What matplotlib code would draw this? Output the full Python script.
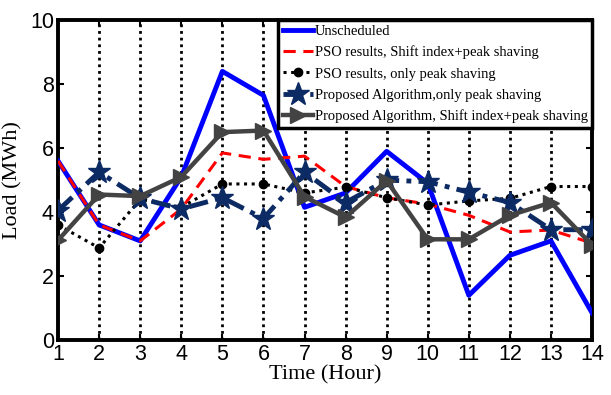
import numpy as np
import matplotlib
matplotlib.use("Agg")
from matplotlib import pyplot as plt

# hours 1..14
hours = np.arange(1, 15)

# load values (MWh)
unscheduled = [5.6, 3.6, 3.1, 5.1, 8.4, 7.65, 4.15, 4.6, 5.9, 4.9, 1.4, 2.65, 3.1, 0.85]
pso_shift_peak = [5.6, 3.6, 3.1, 4.1, 5.85, 5.65, 5.75, 4.8, 4.45, 4.25, 3.9, 3.38, 3.44, 3.03]
pso_peak = [3.6, 2.88, 4.4, 4.15, 4.88, 4.88, 4.6, 4.78, 4.45, 4.22, 4.35, 4.43, 4.8, 4.8]
prop_peak = [4.05, 5.25, 4.43, 4.1, 4.45, 3.8, 5.25, 4.3, 5.0, 4.95, 4.62, 4.3, 3.45, 3.45]
prop_shift_peak = [3.12, 4.55, 4.5, 5.1, 6.5, 6.55, 4.48, 3.84, 4.98, 3.15, 3.15, 3.9, 4.3, 2.97]

labels = ["Unscheduled",
          "PSO results, Shift index+peak shaving",
          "PSO results, only peak shaving",
          "Proposed Algorithm,only peak shaving",
          "Proposed Algorithm, Shift index+peak shaving"]

serif = "Liberation Serif"
sans = "Liberation Sans"

fig = plt.figure(figsize=(6.11, 3.95), dpi=100)
ax = fig.add_axes([0.095, 0.139, 0.874, 0.810])

# vertical dotted grid
for h in hours[1:-1]:
    ax.axvline(h, color="black", linestyle=(0, (1, 1.4)), linewidth=2.0, zorder=1)

ax.plot(hours, unscheduled, color="#0000ff", linewidth=3.5, label=labels[0], zorder=3)
ax.plot(hours, pso_shift_peak, color="#ff0000", linewidth=2.2, linestyle=(0, (4, 2.5)),
        label=labels[1], zorder=4)
ax.plot(hours, pso_peak, color="black", linewidth=2.2, linestyle=(0, (1, 1.5)),
        marker="o", markersize=6, label=labels[2], zorder=5)
ax.plot(hours, prop_peak, color="#0c2a63", linewidth=3.5, linestyle=(0, (4, 1.5, 1, 1.5)),
        marker="*", markersize=17, label=labels[3], zorder=6)
ax.plot(hours, prop_shift_peak, color="#434343", linewidth=3.2,
        marker=">", markersize=11, label=labels[4], zorder=7)

ax.set_xlim(1, 14)
ax.set_ylim(0, 10)
ax.set_xticks(hours)
ax.set_yticks([0, 2, 4, 6, 8, 10])

for sp in ax.spines.values():
    sp.set_linewidth(2.8)
ax.tick_params(direction="in", length=4, width=1.5, right=True, top=True,
               labelsize=15.5, pad=3)
for t in ax.get_xticklabels() + ax.get_yticklabels():
    t.set_fontfamily(sans)

ax.set_xlabel("Time (Hour)", fontsize=16, fontfamily=serif, labelpad=0)
ax.set_ylabel("Load (MWh)", fontsize=16, fontfamily=serif, labelpad=5)

leg = ax.legend(loc="upper right", borderaxespad=0, prop={"family": serif, "size": 10.45},
                fancybox=False, framealpha=1, edgecolor="black", labelspacing=0.55,
                handlelength=2.05, handletextpad=0.15, borderpad=0.3)
leg.get_frame().set_linewidth(2.5)
leg.set_zorder(10)

plt.savefig("out.png", dpi=100)
